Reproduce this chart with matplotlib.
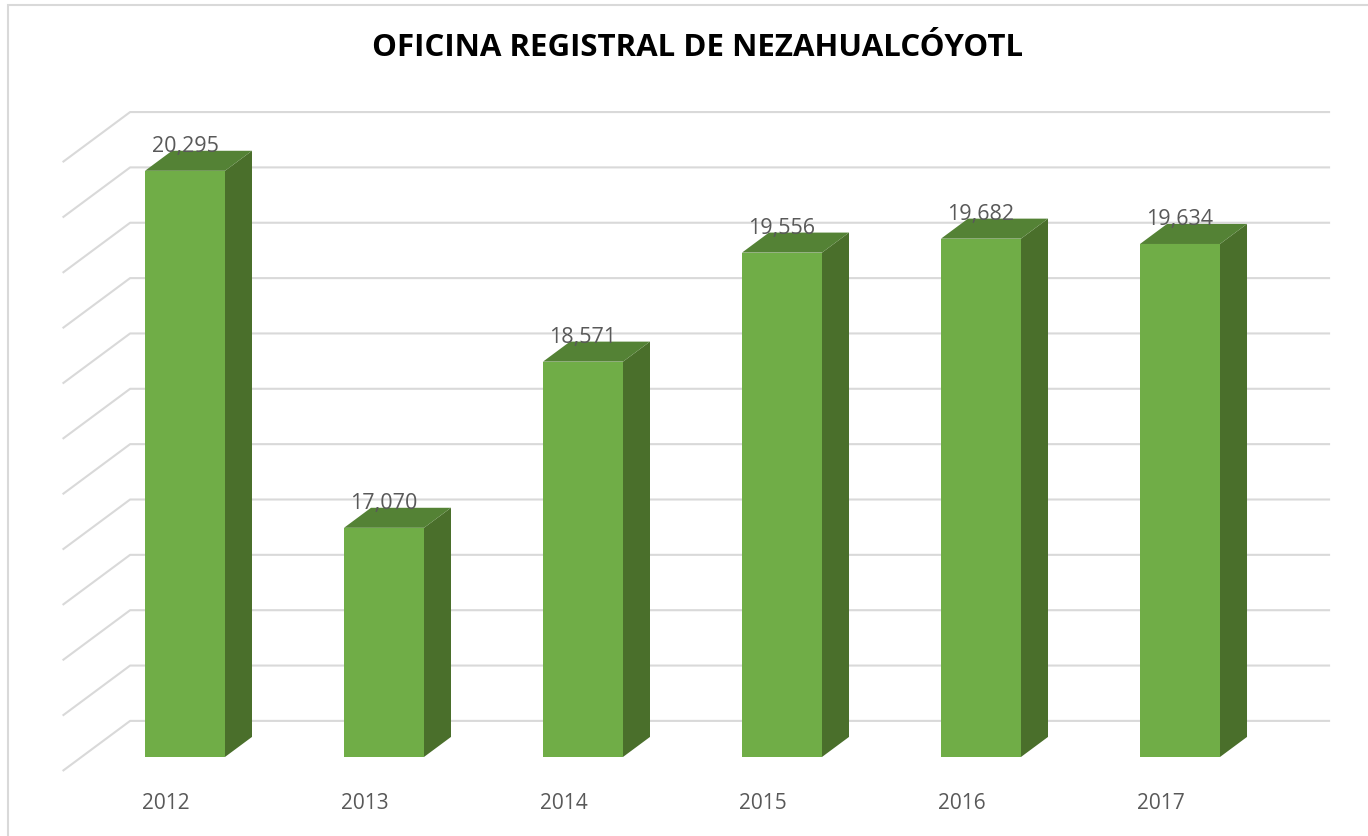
import matplotlib
matplotlib.use("Agg")
import matplotlib.pyplot as plt
from matplotlib.patches import Polygon, Rectangle

# data
years = ["2012", "2013", "2014", "2015", "2016", "2017"]
values = [20295, 17070, 18571, 19556, 19682, 19634]
grid_values = list(range(15000, 21000, 500))
title = "OFICINA REGISTRAL DE NEZAHUALCÓYOTL"

plt.rcParams["font.family"] = ["Open Sans", "DejaVu Sans"]

# colours
front_c = "#70AD47"
top_c = "#548235"
side_c = "#4A6F2B"
grid_c = "#D9D9D9"
text_c = "#595959"

base = 15000
half_w = 0.201
# oblique depth step (one bar depth) in data units
ddx, ddy = 0.1357, 181
back_d = 1.8   # depth of back wall
floor_d = -0.7  # depth of floor front edge


def proj(x, v, d):
    return x + d * ddx, v + d * ddy


fig = plt.figure(figsize=(13.68, 8.36), dpi=100)
ax = fig.add_axes([0, 0, 1, 1])
ax.set_xlim(-0.9296, 5.9447)
ax.set_ylim(14286, 21838)
ax.axis("off")

# back wall + side wall gridlines
x_left, x_right = -0.52, 5.51
for g in grid_values:
    bx0, by0 = proj(x_left, g, back_d)
    bx1, by1 = proj(x_right, g, back_d)
    fx, fy = proj(x_left, g, floor_d)
    ax.plot([fx, bx0, bx1], [fy, by0, by1], color=grid_c, lw=1.5,
            solid_capstyle="butt", zorder=1)

# bars
for i, v in enumerate(values):
    l, r = i - half_w, i + half_w
    front = [(l, base), (r, base), (r, v), (l, v)]
    top = [(l, v), (r, v), proj(r, v, 1), proj(l, v, 1)]
    side = [(r, base), (r, v), proj(r, v, 1), proj(r, base, 1)]
    ax.add_patch(Polygon(side, closed=True, fc=side_c, ec="none", zorder=3))
    ax.add_patch(Polygon(top, closed=True, fc=top_c, ec="none", zorder=3))
    ax.add_patch(Polygon(front, closed=True, fc=front_c, ec="none", zorder=4))
    ax.text(i, v + 217, f"{v:,}", ha="center", va="center",
            fontsize=15.5, color=text_c, zorder=5)
    lx, _ = proj(i, base, floor_d)
    ax.text(lx, 14584, years[i], ha="center", va="center",
            fontsize=15, color=text_c)

fig.text(0.5102, 1 - 48 / 836, title, ha="center", va="center",
         fontsize=22.5, fontweight="bold", color="black")

# chart border (left and top visible)
fig.add_artist(Rectangle((8 / 1368, -0.1), 1.2, 1 - 5 / 836 + 0.1,
                         transform=fig.transFigure, fill=False,
                         ec=grid_c, lw=1.5))

fig.savefig("out.png", dpi=100, facecolor="white")
